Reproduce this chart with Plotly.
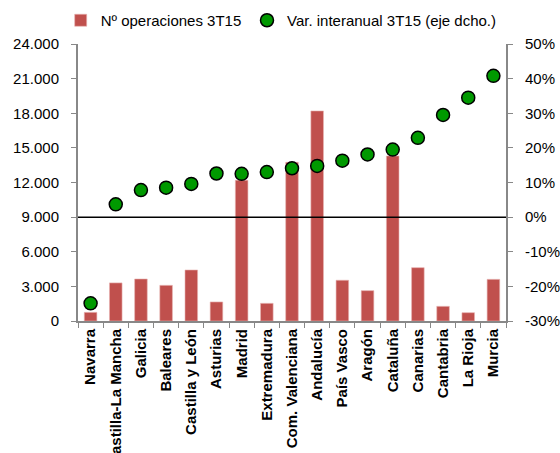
import plotly.graph_objects as go

regions = ["Navarra", "Castilla-La Mancha", "Galicia", "Baleares", "Castilla y León",
           "Asturias", "Madrid", "Extremadura", "Com. Valenciana", "Andalucía",
           "País Vasco", "Aragón", "Cataluña", "Canarias", "Cantabria", "La Rioja", "Murcia"]
operaciones = [750, 3300, 3640, 3090, 4420, 1650, 12200, 1530, 13750, 18200,
               3530, 2630, 14300, 4620, 1270, 720, 3610]
var_interanual = [-24.9, 3.7, 7.8, 8.5, 9.6, 12.6, 12.5, 13.0, 14.1, 14.8,
                  16.3, 18.1, 19.5, 22.9, 29.5, 34.5, 40.8]

left_ticks = list(range(0, 24001, 3000))
right_ticks = list(range(-30, 51, 10))
right_ticktext = [f"{v}%" for v in right_ticks]

FONT = "Liberation Sans, Arial, sans-serif"
AXIS_GRAY = "#888888"

fig = go.Figure()
fig.add_trace(go.Bar(
    x=regions, y=operaciones, name="Nº operaciones 3T15",
    marker=dict(color="#C0504D", line=dict(color="#E8B4B2", width=0.6)),
    yaxis="y", legend="legend",
))
fig.add_trace(go.Scatter(
    x=regions, y=var_interanual, name="Var. interanual 3T15 (eje dcho.)",
    mode="markers",
    marker=dict(color="#009900", size=13, line=dict(color="black", width=1.5)),
    yaxis="y2", legend="legend2",
))

fig.add_shape(type="line", xref="paper", x0=0, x1=1, yref="y2", y0=0, y1=0,
              line=dict(color="black", width=1.5), layer="above")

legend_common = dict(orientation="h", xref="container", xanchor="left",
                     yref="container", y=1 - 20.5 / 453, yanchor="middle",
                     font=dict(size=15, family=FONT), bgcolor="rgba(0,0,0,0)",
                     itemwidth=30)

fig.update_layout(
    width=560, height=453,
    margin=dict(l=78, r=54, t=44, b=132, autoexpand=False),
    plot_bgcolor="white", paper_bgcolor="white",
    separators=",.",
    font=dict(family=FONT, size=15, color="black"),
    bargap=0.5,
    showlegend=True,
    legend=dict(x=60.7 / 560, **legend_common),
    legend2=dict(x=247 / 560, **legend_common),
    xaxis=dict(
        type="category", range=[-0.5, 16.5],
        showline=True, linecolor=AXIS_GRAY, linewidth=2,
        ticks="outside", tickson="boundaries", ticklen=5, tickcolor=AXIS_GRAY,
        tickangle=-90, tickfont=dict(size=15, family=FONT, weight="bold"),
        showgrid=False, automargin=False,
    ),
    yaxis=dict(
        range=[0, 24000], tickvals=left_ticks, tickformat=",.0f",
        showline=True, linecolor=AXIS_GRAY, linewidth=2,
        ticks="outside", ticklen=5, tickcolor=AXIS_GRAY, ticklabelstandoff=9,
        showgrid=False, zeroline=False, automargin=False,
        tickfont=dict(size=15),
    ),
    yaxis2=dict(
        range=[-30, 50], tickvals=right_ticks, ticktext=right_ticktext,
        overlaying="y", side="right",
        showline=True, linecolor=AXIS_GRAY, linewidth=2,
        ticks="outside", ticklen=5, tickcolor=AXIS_GRAY, ticklabelstandoff=9,
        showgrid=False, zeroline=False, automargin=False,
        tickfont=dict(size=15),
    ),
)

fig.write_html("out.html", config={"displayModeBar": False},
               post_script="document.body.style.margin='0px';document.body.style.overflow='hidden';")
